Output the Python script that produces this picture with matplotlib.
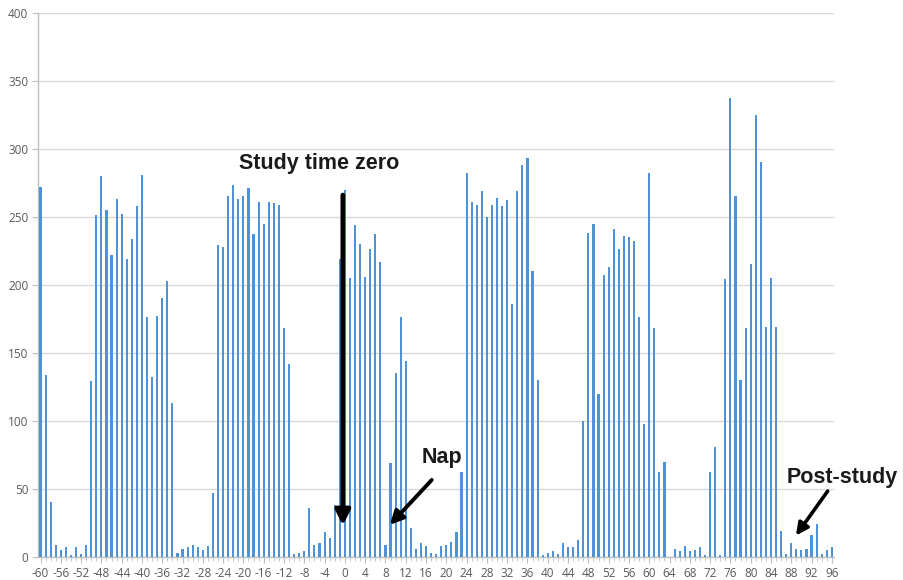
import numpy as np
import matplotlib
matplotlib.use("Agg")
import matplotlib.pyplot as plt

plt.rcParams['axes.unicode_minus'] = False

# heures relatives au temps zéro de l'étude
hours = list(range(-60, 97))

# valeurs (une barre par heure)
counts = [
    272, 134, 40, 9, 5, 7, 1, 7, 2, 9,                 # -60 .. -51
    129, 251, 280, 255, 222, 263, 252, 219, 234, 258,  # -50 .. -41
    281, 176, 132, 177, 190, 203, 113, 3, 6, 7,        # -40 .. -31
    9, 7, 5, 8, 47, 229, 228, 265, 273, 263,           # -30 .. -21
    265, 271, 237, 261, 245, 261, 260, 259, 168, 142,  # -20 .. -11
    2, 3, 4, 36, 9, 10, 18, 14, 38, 219,               # -10 .. -1
    270, 205, 244, 230, 206, 226, 237, 217, 9, 69,     # 0 .. 9
    135, 176, 144, 21, 6, 10, 8, 3, 2, 8,              # 10 .. 19
    9, 11, 18, 62, 282, 261, 259, 269, 250, 259,       # 20 .. 29
    264, 258, 262, 186, 269, 288, 293, 210, 130, 1,    # 30 .. 39
    3, 4, 2, 10, 7, 7, 12, 100, 238, 245,              # 40 .. 49
    120, 207, 213, 241, 226, 236, 235, 232, 176, 98,   # 50 .. 59
    282, 168, 62, 70, 0, 6, 4, 8, 4, 5,                # 60 .. 69
    7, 1, 62, 81, 1, 204, 337, 265, 130, 168,          # 70 .. 79
    215, 325, 290, 169, 205, 169, 19, 2, 10, 6,        # 80 .. 89
    5, 6, 16, 24, 2, 5, 7,                             # 90 .. 96
]

x_ticks = list(range(-60, 97, 4))
y_ticks = list(range(0, 401, 50))

bar_color = '#4f93d6'
grey_txt = '#595959'
grid_col = '#d9d9d9'

fig = plt.figure(figsize=(9.04, 5.8), dpi=100)
ax = fig.add_axes([0.042, 0.040, 0.881, 0.938])

ax.bar(hours, counts, width=0.42, color=bar_color, zorder=3)

ax.set_xlim(-60.5, 96.5)
ax.set_ylim(0, 400)
ax.set_xticks(x_ticks)
ax.set_xticks(hours, minor=True)
ax.set_yticks(y_ticks)
ax.grid(axis='y', color=grid_col, linewidth=1.0, zorder=0)

for side in ['top', 'right']:
    ax.spines[side].set_visible(False)
for side in ['left', 'bottom']:
    ax.spines[side].set_color('#bfbfbf')
    ax.spines[side].set_linewidth(1.0)

ax.tick_params(axis='both', labelsize=8.5, colors=grey_txt, length=4, color='#bfbfbf', pad=3)
ax.tick_params(axis='x', which='minor', length=3, color='#bfbfbf')
for lbl in ax.get_xticklabels() + ax.get_yticklabels():
    lbl.set_family('Open Sans')

# annotations
ann_font = dict(family='Liberation Sans', fontsize=15.5, fontweight='bold', color='#1a1a1a')

ax.text(-5, 289, 'Study time zero', ha='center', va='center', **ann_font)
ax.annotate('', xy=(-0.4, 21), xytext=(-0.4, 268),
            arrowprops=dict(arrowstyle='-|>', color='black', lw=3.4, mutation_scale=22),
            zorder=5)

ax.text(19.2, 73, 'Nap', ha='center', va='center', **ann_font)
ax.annotate('', xy=(8.5, 22), xytext=(17.5, 58),
            arrowprops=dict(arrowstyle='-|>', color='black', lw=2.8, mutation_scale=20),
            zorder=5)

ax.text(98, 58, 'Post-study', ha='center', va='center', clip_on=False, **ann_font)
ax.annotate('', xy=(88.6, 14), xytext=(95.5, 50),
            arrowprops=dict(arrowstyle='-|>', color='black', lw=2.6, mutation_scale=18),
            zorder=5, annotation_clip=False)

fig.savefig('out.png', dpi=100)
